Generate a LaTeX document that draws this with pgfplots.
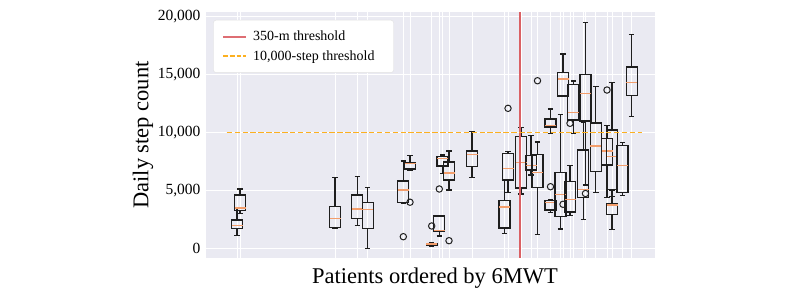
\documentclass[border=0pt]{standalone}
\usepackage{fontspec}
\setmainfont{Liberation Serif}
\usepackage{pgfplots}
\pgfplotsset{compat=1.18}
\usepgfplotslibrary{statistics}
\definecolor{bgc}{RGB}{234,234,242}
\definecolor{boxc}{RGB}{30,30,30}
\definecolor{medc}{RGB}{243,158,108}
\definecolor{redc}{RGB}{218,96,100}
\definecolor{redl}{RGB}{222,110,115}
\definecolor{orc}{RGB}{252,176,32}
% values in thousands of steps
\newcommand{\bx}[6]{\addplot[forget plot, draw=boxc, line width=1.3bp, boxplot prepared={draw position=#1, lower whisker=#2, lower quartile=#3, median=#4, upper quartile=#5, upper whisker=#6}] coordinates {};}
\begin{document}
\begin{tikzpicture}
\useasboundingbox (0,0) rectangle (800bp,294bp);
\begin{axis}[
  at={(206bp,36bp)}, anchor=south west,
  scale only axis, width=449bp, height=246bp,
  xmin=206, xmax=655, ymin=-0.82, ymax=20.39,
  axis background/.style={fill=bgc},
  axis line style={draw=none},
  major tick length=0pt,
  grid=major,
  major grid style={white, line width=1bp},
  xtick={237,240,335,357.3,367.7,403.3,410,431.7,439.3,442.5,449,472,504.5,508,521,531,537.5,550.5,560.5,563,570,573.3,583.3,585.5,595.8,607,612,622.5,631.7},
  xticklabels={},
  ytick={0,5,10,15,20},
  yticklabels={0,{5,000},{10,000},{15,000},{20,000}},
  tick label style={font=\fontsize{15.5bp}{18bp}\selectfont},
  yticklabel style={xshift=-2bp},
  ylabel={Daily step count},
  ylabel style={at={(axis description cs:-0.1405,0.5)}, anchor=center, font=\fontsize{22.5bp}{26bp}\selectfont},
  xlabel={Patients ordered by 6MWT},
  xlabel style={at={(axis description cs:0.51,0)}, anchor=center, yshift=-20bp, font=\fontsize{22.5bp}{26bp}\selectfont},
  boxplot/draw direction=y,
  boxplot/box extend=11,
  boxplot/whisker extend=5.5,
  boxplot/every box/.style={draw=boxc, line width=1.3bp},
  boxplot/every whisker/.style={draw=boxc, line width=1.3bp},
  boxplot/every median/.style={draw=medc, line width=1.3bp},
  legend cell align=left,
  legend style={at={(axis description cs:0.0163,0.9675)}, anchor=north west,
    draw=black!12, fill=white, rounded corners=2.5bp,
    font=\fontsize{14bp}{16bp}\selectfont,
    inner xsep=9bp, inner ysep=9bp, row sep=4bp},
  legend image code/.code={\draw[#1] (0bp,0bp) -- (23bp,0bp); \path (27bp,0bp);},
]
\bx{237}{1.138}{1.741}{1.983}{2.457}{3.534}
\bx{240}{3.000}{3.258}{3.491}{4.612}{5.129}
\bx{335}{1.707}{1.793}{2.569}{3.603}{6.103}
\bx{357.3}{2.000}{2.603}{3.405}{4.612}{6.189}
\bx{367.7}{0.017}{1.741}{3.345}{3.982}{5.275}
\bx{403.3}{3.900}{3.982}{5.043}{5.818}{7.543}
\bx{410}{6.700}{6.853}{7.310}{7.430}{8.034}
\bx{431.7}{0.200}{0.300}{0.380}{0.450}{0.520}
\bx{439.3}{1.078}{1.465}{1.550}{2.800}{2.800}
\bx{442.5}{6.482}{7.111}{7.775}{7.913}{8.060}
\bx{449}{5.043}{5.905}{6.508}{7.456}{8.404}
\bx{472}{6.103}{7.050}{8.111}{8.404}{10.070}
\bx{504.5}{1.310}{1.767}{3.577}{4.138}{5.905}
\bx{508}{4.844}{5.905}{6.896}{8.206}{8.344}
\bx{521}{4.698}{5.215}{7.430}{9.637}{10.430}
\bx{531}{6.336}{6.767}{7.129}{8.017}{9.723}
\bx{537.5}{1.224}{5.241}{6.534}{8.120}{9.180}
\bx{550.5}{9.930}{10.473}{10.603}{11.163}{12.025}
\bx{550.5}{3.103}{3.319}{3.948}{4.120}{4.200}
\bx{560.5}{1.681}{2.776}{4.638}{6.568}{11.550}
\bx{563}{13.085}{13.146}{14.611}{15.189}{16.766}
\bx{570}{2.819}{3.146}{4.207}{5.758}{7.137}
\bx{573.3}{9.896}{11.077}{11.706}{14.163}{14.439}
\bx{583.3}{2.483}{4.379}{5.069}{8.491}{10.879}
\bx{585.5}{5.474}{10.990}{13.344}{15.025}{19.481}
\bx{595.8}{4.844}{6.620}{8.836}{10.818}{13.947}
\bx{607}{4.413}{7.198}{8.404}{9.499}{10.585}
\bx{612}{4.465}{5.103}{7.913}{10.214}{14.327}
\bx{612}{1.655}{2.948}{3.750}{3.896}{5.043}
\bx{622.5}{4.586}{4.844}{7.137}{8.878}{9.120}
\bx{631.7}{11.361}{13.206}{14.327}{15.645}{18.447}
\addplot[forget plot, only marks, mark=o, mark size=3.2bp, mark options={draw=boxc, line width=1bp}] coordinates {
(403.3,1.017) (410,3.990) (431.7,1.940) (439.3,5.130) (449,0.672) (508,12.085)
(537.5,14.464) (550.5,5.327) (563,3.810) (570,10.793) (585.5,4.740) (607,13.663)};
\addplot[forget plot, redc, line width=1.4bp] coordinates {(520,-0.82) (520,20.39)};
\addplot[forget plot, orc, line width=1.7bp, dash pattern=on 5.5bp off 2.4bp] coordinates {(226.7,10) (641.7,10)};
\addlegendimage{draw=redl, line width=1.6bp}
\addlegendentry{350-m threshold}
\addlegendimage{draw=orc, line width=1.7bp, dash pattern=on 4.6bp off 2bp}
\addlegendentry{10,000-step threshold\hspace*{8bp}}
\end{axis}
\end{tikzpicture}
\end{document}
